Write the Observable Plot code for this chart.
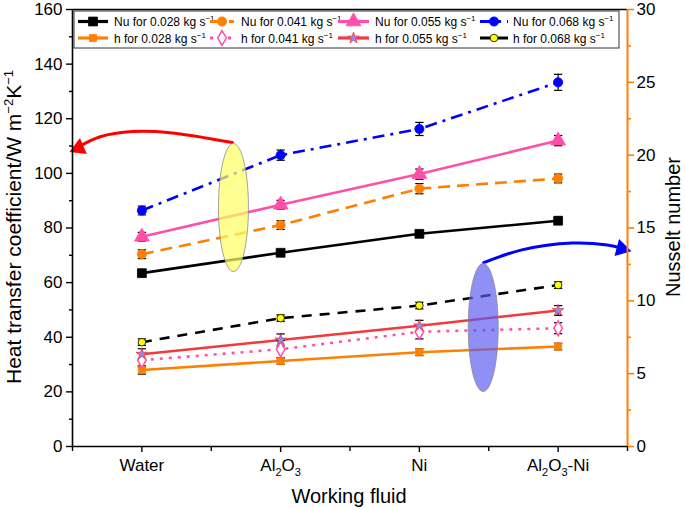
<!DOCTYPE html>
<html>
<head>
<meta charset="utf-8">
<script src="https://cdn.jsdelivr.net/npm/d3@7"></script>
<script src="https://cdn.jsdelivr.net/npm/@observablehq/plot@0.6"></script>
<style>
  html, body { margin: 0; padding: 0; background: #fff; }
  #chart { width: 685px; height: 509px; }
</style>
</head>
<body>
<div id="chart"></div>
<script>
// ---- data ----
const categories = ["Water", "Al2O3", "Ni", "Al2O3-Ni"];
// Nusselt number (right axis)
const nu028 = [11.9, 13.3, 14.6, 15.5];
const nu041 = [13.2, 15.2, 17.7, 18.4];
const nu055 = [14.4, 16.6, 18.7, 21.0];
const nu068 = [16.2, 20.0, 21.8, 25.0];
const nuErr028 = [0.2, 0.2, 0.2, 0.25];
const nuErr041 = [0.3, 0.3, 0.35, 0.3];
const nuErr055 = [0.3, 0.3, 0.35, 0.35];
const nuErr068 = [0.3, 0.35, 0.45, 0.55];
// heat transfer coefficient (left axis)
const h028 = [28.0, 31.3, 34.5, 36.6];
const h041 = [31.6, 35.6, 42.0, 43.3];
const h055 = [33.8, 39.0, 44.2, 49.8];
const h068 = [38.2, 47.0, 51.6, 59.1];
const hErr028 = [1.5, 1.2, 1.2, 1.2];
const hErr041 = [2.5, 3.2, 2.6, 2.0];
const hErr055 = [2.0, 2.2, 2.0, 1.8];
const hErr068 = [1.2, 1.2, 1.2, 1.2];
// tick values
const hTicks = [0, 20, 40, 60, 80, 100, 120, 140, 160];
const nuTicks = [0, 5, 10, 15, 20, 25, 30];
// annotation shapes (data space)
const ellipseMarks = [
  {x: 0.66, y: 87.5, fill: "#ffff66", opacity: 0.72},
  {x: 2.46, y: 43.6, fill: "#5a5af0", opacity: 0.68}
];
const redArrowPath = [
  {x: 0.652, y: 111.3}, {x: 0.2, y: 114.9}, {x: -0.065, y: 115.3}, {x: -0.3, y: 113.4}, {x: -0.46, y: 109.6}
];
const redArrowHead = [{x: -0.455, y: 109.3, rotate: 247}];
const blueArrowPath = [
  {x: 2.464, y: 67.3}, {x: 2.739, y: 72.0}, {x: 3.101, y: 74.5}, {x: 3.355, y: 73.8}, {x: 3.46, y: 72.6}
];
const blueArrowHead = [{x: 3.458, y: 72.4, rotate: 105}];

const NU2H = 160 / 30;
const ORANGE = "#ff7f00", PINK = "#ff4fa8", RED = "#f2393c", BLUE = "#0000ff";

const series = [
  {label: "Nu for 0.028 kg s", values: nu028, err: nuErr028, nu: true, color: "#000", dash: null, symbol: "square", fill: "#000", stroke: "#000", r: 5},
  {label: "Nu for 0.041 kg s", values: nu041, err: nuErr041, nu: true, color: ORANGE, dash: "12,7", symbol: "circle", fill: ORANGE, stroke: ORANGE, r: 4.6},
  {label: "Nu for 0.055 kg s", values: nu055, err: nuErr055, nu: true, color: PINK, dash: null, symbol: "triangle", fill: PINK, stroke: PINK, r: 5.5},
  {label: "Nu for 0.068 kg s", values: nu068, err: nuErr068, nu: true, color: BLUE, dash: "12,6,3,6", symbol: "circle", fill: BLUE, stroke: BLUE, r: 4.6},
  {label: "h for 0.028 kg s", values: h028, err: hErr028, nu: false, color: ORANGE, dash: null, symbol: "square", fill: ORANGE, stroke: ORANGE, r: 4},
  {label: "h for 0.041 kg s", values: h041, err: hErr041, nu: false, color: PINK, dash: "3,6", symbol: "diamond", fill: "#fff", stroke: PINK, r: 4.5},
  {label: "h for 0.055 kg s", values: h055, err: hErr055, nu: false, color: RED, dash: null, symbol: "star", fill: "#8c8cf0", stroke: RED, r: 3.6},
  {label: "h for 0.068 kg s", values: h068, err: hErr068, nu: false, color: "#000", dash: "10,8", symbol: "circle", fill: "#ffff00", stroke: "#000", r: 3.8}
];

function rowsOf(s) {
  const k = s.nu ? NU2H : 1;
  return s.values.map((v, i) => ({x: i, y: v * k, lo: (v - s.err[i]) * k, hi: (v + s.err[i]) * k}));
}

const ellipseSymbol = {
  draw(ctx) {
    const rx = 15, ry = 64, k = 0.5523;
    ctx.moveTo(rx, 0);
    ctx.bezierCurveTo(rx, ry * k, rx * k, ry, 0, ry);
    ctx.bezierCurveTo(-rx * k, ry, -rx, ry * k, -rx, 0);
    ctx.bezierCurveTo(-rx, -ry * k, -rx * k, -ry, 0, -ry);
    ctx.bezierCurveTo(rx * k, -ry, rx, -ry * k, rx, 0);
    ctx.closePath();
  }
};

const marks = [];
// series lines
for (const s of series) {
  marks.push(Plot.line(rowsOf(s), {x: "x", y: "y", stroke: s.color, strokeWidth: 2.6, strokeDasharray: s.dash || undefined, strokeLinecap: "butt"}));
}
// error bars
for (const s of series) {
  const rows = rowsOf(s);
  marks.push(Plot.ruleX(rows, {x: "x", y1: "lo", y2: "hi", stroke: "#000", strokeWidth: 1.2}));
  marks.push(Plot.link(rows, {x1: d => d.x - 0.03, x2: d => d.x + 0.03, y1: "lo", y2: "lo", stroke: "#000", strokeWidth: 1.2}));
  marks.push(Plot.link(rows, {x1: d => d.x - 0.03, x2: d => d.x + 0.03, y1: "hi", y2: "hi", stroke: "#000", strokeWidth: 1.2}));
}
// markers
for (const s of series) {
  marks.push(Plot.dot(rowsOf(s), {x: "x", y: "y", symbol: s.symbol, r: s.r, fill: s.fill, stroke: s.stroke, strokeWidth: s.fill === "#fff" ? 1.5 : 0.8}));
}
// annotations
marks.push(Plot.line(redArrowPath, {x: "x", y: "y", stroke: "#ff0000", strokeWidth: 3, curve: "catmull-rom"}));
marks.push(Plot.dot(redArrowHead, {x: "x", y: "y", symbol: "triangle", r: 6.5, fill: "#ff0000", rotate: "rotate"}));
marks.push(Plot.line(blueArrowPath, {x: "x", y: "y", stroke: BLUE, strokeWidth: 3, curve: "catmull-rom"}));
marks.push(Plot.dot(blueArrowHead, {x: "x", y: "y", symbol: "triangle", r: 6.5, fill: BLUE, rotate: "rotate"}));
marks.push(Plot.dot(ellipseMarks, {x: "x", y: "y", symbol: ellipseSymbol, fill: "fill", fillOpacity: "opacity", stroke: "#8a8a8a", strokeWidth: 0.8, r: 10}));

// frame
marks.push(Plot.ruleY([160], {stroke: "#000", strokeWidth: 1.6}));
marks.push(Plot.ruleY([0], {stroke: "#000", strokeWidth: 1.6}));
marks.push(Plot.ruleX([-0.5], {stroke: "#000", strokeWidth: 1.6}));
marks.push(Plot.ruleX([3.5], {stroke: ORANGE, strokeWidth: 2}));

// axes
marks.push(Plot.axisX([0, 1, 2, 3], {tickFormat: i => categories[i], tickSize: 6, tickPadding: 6, fontSize: 17, strokeWidth: 1.4, label: null}));
marks.push(Plot.axisX([-0.5, 0.5, 1.5, 2.5, 3.5], {tickFormat: () => "", tickSize: 5, strokeWidth: 1.4, label: null}));
marks.push(Plot.axisY(hTicks, {anchor: "left", tickSize: 6, tickPadding: 4, fontSize: 17, strokeWidth: 1.4, label: null}));
marks.push(Plot.axisY(hTicks.slice(0, -1).map(v => v + 10), {anchor: "left", tickSize: 3, tickFormat: () => "", strokeWidth: 1.4, label: null}));
marks.push(Plot.axisY(nuTicks.map(v => v * NU2H), {anchor: "right", tickSize: 6, tickFormat: () => "", color: ORANGE, strokeWidth: 1.6, label: null}));
marks.push(Plot.axisY(nuTicks.slice(0, -1).map(v => (v + 2.5) * NU2H), {anchor: "right", tickSize: 3, tickFormat: () => "", color: ORANGE, strokeWidth: 1.6, label: null}));
marks.push(Plot.axisY(nuTicks.map(v => v * NU2H), {anchor: "right", tickSize: 0, tickPadding: 9, tickFormat: d => Math.round(d / NU2H), fontSize: 17, color: "#000", label: null}));

const plot = Plot.plot({
  width: 685, height: 509,
  marginLeft: 72, marginRight: 58, marginTop: 9, marginBottom: 63,
  style: {fontFamily: "'Liberation Sans', Arial, sans-serif", background: "#fff", color: "#000"},
  x: {domain: [-0.5, 3.5], label: null},
  y: {domain: [0, 160], label: null},
  marks
});
document.getElementById("chart").appendChild(plot);

const svg = d3.select(plot);
const FONT = "'Liberation Sans', Arial, sans-serif";

// subscripts on x tick labels
svg.selectAll('g[aria-label="x-axis tick label"] text').each(function () {
  const t = d3.select(this);
  const s = this.textContent;
  if (!/\d/.test(s)) return;
  t.text(null);
  const parts = s.split(/(\d)/).filter(p => p !== "");
  let sub = false;
  for (const p of parts) {
    const isDigit = /^\d$/.test(p);
    const ts = t.append("tspan").text(p);
    if (isDigit && !sub) { ts.attr("dy", "5").attr("font-size", "11px"); sub = true; }
    else if (!isDigit && sub) { ts.attr("dy", "-5"); sub = false; }
    else if (isDigit) { ts.attr("font-size", "11px"); }
  }
});

// axis titles
svg.append("text").attr("x", 349).attr("y", 503).attr("text-anchor", "middle")
  .attr("font-family", FONT).attr("font-size", 20).text("Working fluid");
const yt = svg.append("text").attr("transform", "translate(21,227) rotate(-90)").attr("text-anchor", "middle")
  .attr("font-family", FONT).attr("font-size", 21);
yt.append("tspan").text("Heat transfer coefficient/W m");
yt.append("tspan").attr("dy", -8).attr("font-size", 13).text("−2");
yt.append("tspan").attr("dy", 8).text("K");
yt.append("tspan").attr("dy", -8).attr("font-size", 13).text("−1");
svg.append("text").attr("transform", "translate(680,227) rotate(-90)").attr("text-anchor", "middle")
  .attr("font-family", FONT).attr("font-size", 20).text("Nusselt number");

// legend
const lg = svg.append("g").attr("text-anchor", "start");
lg.append("rect").attr("x", 74).attr("y", 11).attr("width", 545).attr("height", 37)
  .attr("fill", "#fff").attr("stroke", "#333").attr("stroke-width", 1);
const colX0 = [78, 210, 338, 480], colX1 = [108, 234, 369, 508], colT = [114, 241, 375, 513];
const rowY = [21.5, 38];
const symMap = {square: d3.symbolSquare, circle: d3.symbolCircle, triangle: d3.symbolTriangle, diamond: d3.symbolDiamond, star: d3.symbolStar};
series.forEach((s, i) => {
  const c = i % 4, r = Math.floor(i / 4);
  const y = rowY[r];
  lg.append("line").attr("x1", colX0[c]).attr("x2", colX1[c]).attr("y1", y).attr("y2", y)
    .attr("stroke", s.color).attr("stroke-width", 3.2).attr("stroke-dasharray", s.dash || null);
  const mx = (colX0[c] + colX1[c]) / 2;
  lg.append("path").attr("transform", `translate(${mx},${y})`)
    .attr("d", d3.symbol(symMap[s.symbol], Math.PI * s.r * s.r)())
    .attr("fill", s.fill).attr("stroke", s.stroke).attr("stroke-width", s.fill === "#fff" ? 1.5 : 0.8);
  const t = lg.append("text").attr("x", colT[c]).attr("y", y + 4.5).attr("text-anchor", "start")
    .attr("font-family", FONT).attr("font-size", 12);
  t.append("tspan").text(s.label);
  t.append("tspan").attr("dy", -5).attr("font-size", 8).text("−1");
});
</script>
</body>
</html>
